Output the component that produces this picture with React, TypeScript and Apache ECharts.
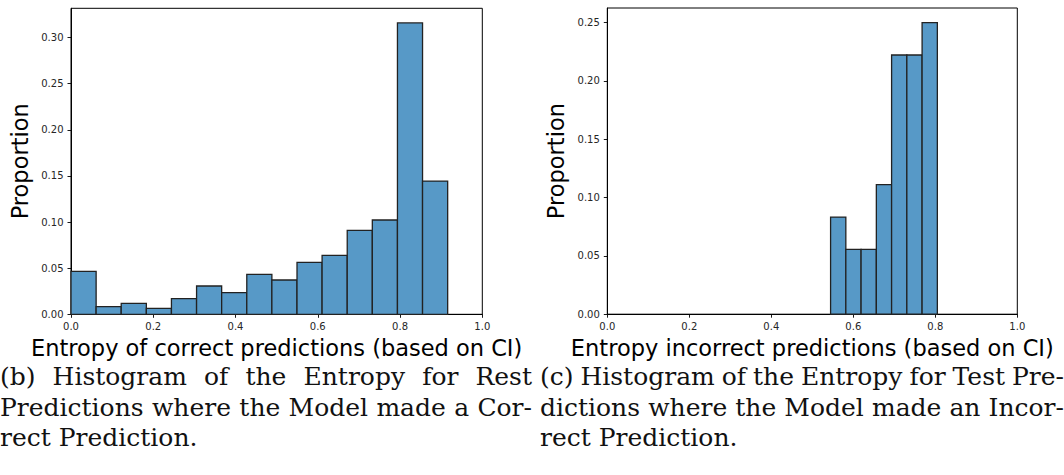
import React, { useEffect, useMemo, useRef } from "react";
import * as echarts from "echarts";

// Histogram of entropy for correct predictions (bin edges and proportions)
const correctEdges = [
  0, 0.0611, 0.1221, 0.1832, 0.2442, 0.3053, 0.3663, 0.4274, 0.4884, 0.5495,
  0.6105, 0.6716, 0.7326, 0.7937, 0.8547, 0.9158,
];
const correctProportions = [
  0.0466, 0.0083, 0.0119, 0.0065, 0.017, 0.0307, 0.0235, 0.0433, 0.0372,
  0.0563, 0.0639, 0.091, 0.1022, 0.3159, 0.1444,
];

// Histogram of entropy for incorrect predictions
const incorrectEdges = [0.5446, 0.5818, 0.619, 0.6562, 0.6934, 0.7306, 0.7678, 0.805];
const incorrectProportions = [0.0833, 0.0556, 0.0556, 0.1111, 0.2222, 0.2222, 0.25];

// Axis ticks
const xTicks = [0, 0.2, 0.4, 0.6, 0.8, 1.0];
const correctYTicks = [0, 0.05, 0.1, 0.15, 0.2, 0.25, 0.3];
const incorrectYTicks = [0, 0.05, 0.1, 0.15, 0.2, 0.25];

const correctXName = "Entropy of correct predictions (based on CI)";
const incorrectXName = "Entropy incorrect predictions (based on CI)";
const yName = "Proportion";

// Sub-figure captions, one entry per typeset line
const captionB = [
  "(b) Histogram of the Entropy for Rest",
  "Predictions where the Model made a Cor-",
  "rect Prediction.",
];
const captionC = [
  "(c) Histogram of the Entropy for Test Pre-",
  "dictions where the Model made an Incor-",
  "rect Prediction.",
];

const SANS = "'DejaVu Sans', sans-serif";
const CAPTION_FONT_SIZE = 25;
const CAPTION_FONT = `${CAPTION_FONT_SIZE}px 'DejaVu Serif'`;
const BAR_FILL = "#5799c7";
const BAR_EDGE = "#222222";

function binData(edges: number[], values: number[]) {
  return values.map((v, i) => [edges[i], edges[i + 1], v]);
}

function renderBin(_params: any, api: any) {
  const x0 = api.value(0);
  const x1 = api.value(1);
  const y = api.value(2);
  const topLeft = api.coord([x0, y]);
  const bottomRight = api.coord([x1, 0]);
  return {
    type: "rect",
    shape: {
      x: topLeft[0],
      y: topLeft[1],
      width: bottomRight[0] - topLeft[0],
      height: bottomRight[1] - topLeft[1],
    },
    style: { fill: BAR_FILL, stroke: BAR_EDGE, lineWidth: 1.3 },
  };
}

function xAxisFor(gridIndex: number, name: string) {
  return {
    type: "value",
    gridIndex,
    min: 0,
    max: 1,
    interval: 0.2,
    name,
    nameLocation: "middle",
    nameGap: 22.5,
    nameTextStyle: { fontFamily: SANS, fontSize: 22.5, color: "#000" },
    axisLine: { show: true, lineStyle: { color: "#000", width: 1 } },
    axisTick: { show: true, length: 3.5, lineStyle: { color: "#000", width: 0.9 }, customValues: xTicks },
    axisLabel: {
      fontFamily: SANS,
      fontSize: 10,
      color: "#262626",
      margin: 7.5,
      customValues: xTicks,
      formatter: (v: number) => v.toFixed(1),
    },
    splitLine: { show: false },
  };
}

function yAxisFor(gridIndex: number, max: number, ticks: number[]) {
  return {
    type: "value",
    gridIndex,
    min: 0,
    max,
    interval: 0.05,
    name: yName,
    nameLocation: "middle",
    nameGap: 39.5,
    nameRotate: 90,
    nameTextStyle: { fontFamily: SANS, fontSize: 22.5, color: "#000" },
    axisLine: { show: true, lineStyle: { color: "#000", width: 1 } },
    axisTick: { show: true, length: 3.5, lineStyle: { color: "#000", width: 0.9 }, customValues: ticks },
    axisLabel: {
      fontFamily: SANS,
      fontSize: 10,
      color: "#262626",
      margin: 7.5,
      customValues: ticks,
      formatter: (v: number) => v.toFixed(2),
    },
    splitLine: { show: false },
  };
}

const gridBase = {
  show: true,
  borderColor: "#000",
  borderWidth: 1,
  backgroundColor: "transparent",
  containLabel: false,
  outerBoundsMode: "none",
};

const option: any = {
  animation: false,
  backgroundColor: "transparent",
  grid: [
    { ...gridBase, left: 71, top: 8.3, width: 411.3, height: 306 },
    { ...gridBase, left: 607.3, top: 8, width: 410, height: 306.2 },
  ],
  xAxis: [xAxisFor(0, correctXName), xAxisFor(1, incorrectXName)],
  yAxis: [yAxisFor(0, 0.3317, correctYTicks), yAxisFor(1, 0.2625, incorrectYTicks)],
  series: [
    {
      type: "custom",
      xAxisIndex: 0,
      yAxisIndex: 0,
      renderItem: renderBin,
      encode: { x: [0, 1], y: 2 },
      data: binData(correctEdges, correctProportions),
    },
    {
      type: "custom",
      xAxisIndex: 1,
      yAxisIndex: 1,
      renderItem: renderBin,
      encode: { x: [0, 1], y: 2 },
      data: binData(incorrectEdges, incorrectProportions),
    },
  ],
};

type CaptionLine = { text: string; x: number; y: number; width?: number };

function layoutCaption(lines: string[], x: number, width: number): CaptionLine[] {
  const baselines = [385, 415.5, 446];
  return lines.map((text, i) => ({
    text,
    x,
    y: baselines[i],
    // the last line of a paragraph is set ragged, the others are justified
    width: i < lines.length - 1 ? width : undefined,
  }));
}

export default function App() {
  const ref = useRef<HTMLDivElement>(null);

  useEffect(() => {
    document.body.style.margin = "0";
    const chart = echarts.init(ref.current!, null, { renderer: "svg" });
    chart.setOption(option);
    return () => chart.dispose();
  }, []);

  const captionLines = useMemo(() => {
    const ctx = document.createElement("canvas").getContext("2d")!;
    ctx.font = CAPTION_FONT;
    const all = [...layoutCaption(captionB, 0, 532), ...layoutCaption(captionC, 540, 524)];
    return all.map((l) => {
      let wordSpacing = 0;
      if (l.width) {
        const natural = ctx.measureText(l.text).width;
        const gaps = l.text.split(" ").length - 1;
        if (gaps > 0) wordSpacing = (l.width - natural) / gaps;
      }
      return { ...l, wordSpacing };
    });
  }, []);

  return (
    <div style={{ position: "absolute", left: 0, top: 0, width: 1064, height: 475, background: "#fff", overflow: "hidden" }}>
      <div ref={ref} style={{ position: "absolute", left: 0, top: 0, width: 1064, height: 475 }} />
      <svg
        width={1064}
        height={475}
        style={{ position: "absolute", left: 0, top: 0, pointerEvents: "none" }}
      >
        {captionLines.map((l, i) => (
          <text
            key={i}
            x={l.x}
            y={l.y}
            fill="#111"
            style={{ font: CAPTION_FONT, wordSpacing: `${l.wordSpacing}px`, whiteSpace: "pre" }}
          >
            {l.text}
          </text>
        ))}
      </svg>
    </div>
  );
}
